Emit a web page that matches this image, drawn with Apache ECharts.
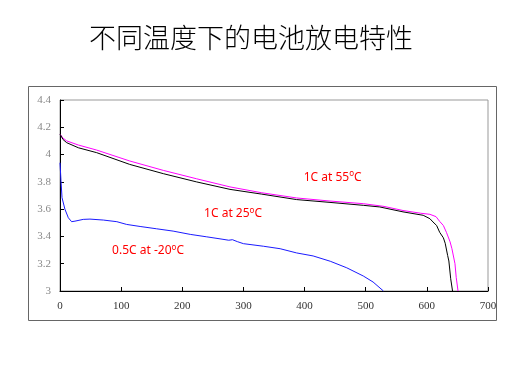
<!DOCTYPE html>
<html><head><meta charset="utf-8">
<script src="https://cdn.jsdelivr.net/npm/echarts@6/dist/echarts.min.js"></script>
<style>html,body{margin:0;padding:0;background:#fff}#c{width:532px;height:365px}</style>
</head><body><div id="c"></div>
<script>
const titleText = '不同温度下的电池放电特性';
const xTicks = {min: 0, max: 700, interval: 100};
const yTicks = {min: 3, max: 4.4, interval: 0.2};
const seriesNames = ['1C at 55°C', '1C at 25°C', '0.5C at -20°C'];
const data55 = [[0,4.15],[5,4.12],[11,4.10],[30,4.07],[60,4.033],[114,3.953],[169,3.884],[223,3.823],[278,3.763],[330,3.72],[387,3.682],[440,3.66],[496,3.64],[530,3.62],[561,3.59],[590,3.57],[605,3.562],[615,3.545],[621,3.51],[627,3.48],[632,3.43],[638,3.36],[641,3.31],[646,3.2],[648,3.1],[651,3.0]];
const data25 = [[0,4.15],[5,4.11],[11,4.087],[30,4.05],[60,4.014],[114,3.928],[169,3.86],[223,3.80],[278,3.745],[330,3.71],[387,3.67],[440,3.65],[496,3.628],[523,3.616],[561,3.58],[594,3.555],[605,3.53],[610,3.506],[616,3.48],[621,3.43],[627,3.39],[630,3.35],[634,3.26],[636,3.22],[639,3.09],[642,3.0]];
const dataM20 = [[0,3.94],[1.6,3.81],[3.3,3.684],[8,3.6],[13.6,3.537],[19,3.508],[24.5,3.512],[38,3.525],[49,3.527],[71,3.52],[93,3.508],[109,3.488],[131,3.473],[158,3.456],[185,3.439],[213,3.415],[240,3.397],[265,3.38],[276,3.372],[282,3.376],[290,3.362],[300,3.347],[333,3.328],[360,3.31],[387,3.279],[414,3.257],[442,3.218],[469,3.17],[496,3.11],[512,3.066],[529,3.0]];
const labelPos = [[446,3.834],[283,3.57],[144,3.295]];
const labelParts = [['1C at 55','C'],['1C at 25','C'],['0.5C at -20','C']];
const colors = ['#ff00ff', '#000000', '#1a1aff'];

const chart = echarts.init(document.getElementById('c'), null, {renderer: 'canvas'});
const rich = {
  a: {color: '#ff0000', fontSize: 12, fontFamily: 'Noto Sans'},
  s: {color: '#ff0000', fontSize: 8, fontFamily: 'Noto Sans', padding: [0, 0, 6, 0]}
};
function mk(i, data) {
  return {
    name: seriesNames[i], type: 'line', data: data, showSymbol: false, smooth: false,
    lineStyle: {color: colors[i], width: 1}, itemStyle: {color: colors[i]},
    markPoint: {
      symbol: 'circle', symbolSize: 0, silent: true,
      data: [{coord: labelPos[i], value: 0}],
      label: {show: true, position: 'inside', formatter: '{a|' + labelParts[i][0] + '}{s|o}{a|' + labelParts[i][1] + '}', rich: rich}
    }
  };
}
chart.setOption({
  animation: false,
  backgroundColor: '#fff',
  title: {text: titleText, left: 84, top: 19, textStyle: {fontSize: 27, fontWeight: 300, color: '#000', fontFamily: 'Noto Sans CJK SC'}},
  grid: {left: 60, right: 44, top: 100, bottom: 74, show: true, borderColor: '#999', borderWidth: 1},
  xAxis: {type: 'value', min: xTicks.min, max: xTicks.max, interval: xTicks.interval,
    axisLine: {show: true, lineStyle: {color: '#000', width: 1}},
    axisTick: {show: true, inside: true, length: 4, lineStyle: {color: '#000'}},
    splitLine: {show: false},
    axisLabel: {color: '#333', fontSize: 11, fontFamily: 'Liberation Serif', margin: 10}},
  yAxis: {type: 'value', min: yTicks.min, max: yTicks.max, interval: yTicks.interval,
    axisLine: {show: true, lineStyle: {color: '#000', width: 1}},
    axisTick: {show: true, inside: true, length: 4, lineStyle: {color: '#000'}},
    splitLine: {show: false},
    axisLabel: {color: '#888', fontSize: 11, fontFamily: 'Liberation Serif', margin: 9,
      formatter: v => String(Math.round(v * 10) / 10)}},
  graphic: [{type: 'rect', shape: {x: 28.5, y: 86.5, width: 468, height: 234}, style: {fill: 'none', stroke: '#666', lineWidth: 1}, silent: true, z: -1}],
  series: [mk(0, data55), mk(1, data25), mk(2, dataM20)]
});
</script></body></html>
